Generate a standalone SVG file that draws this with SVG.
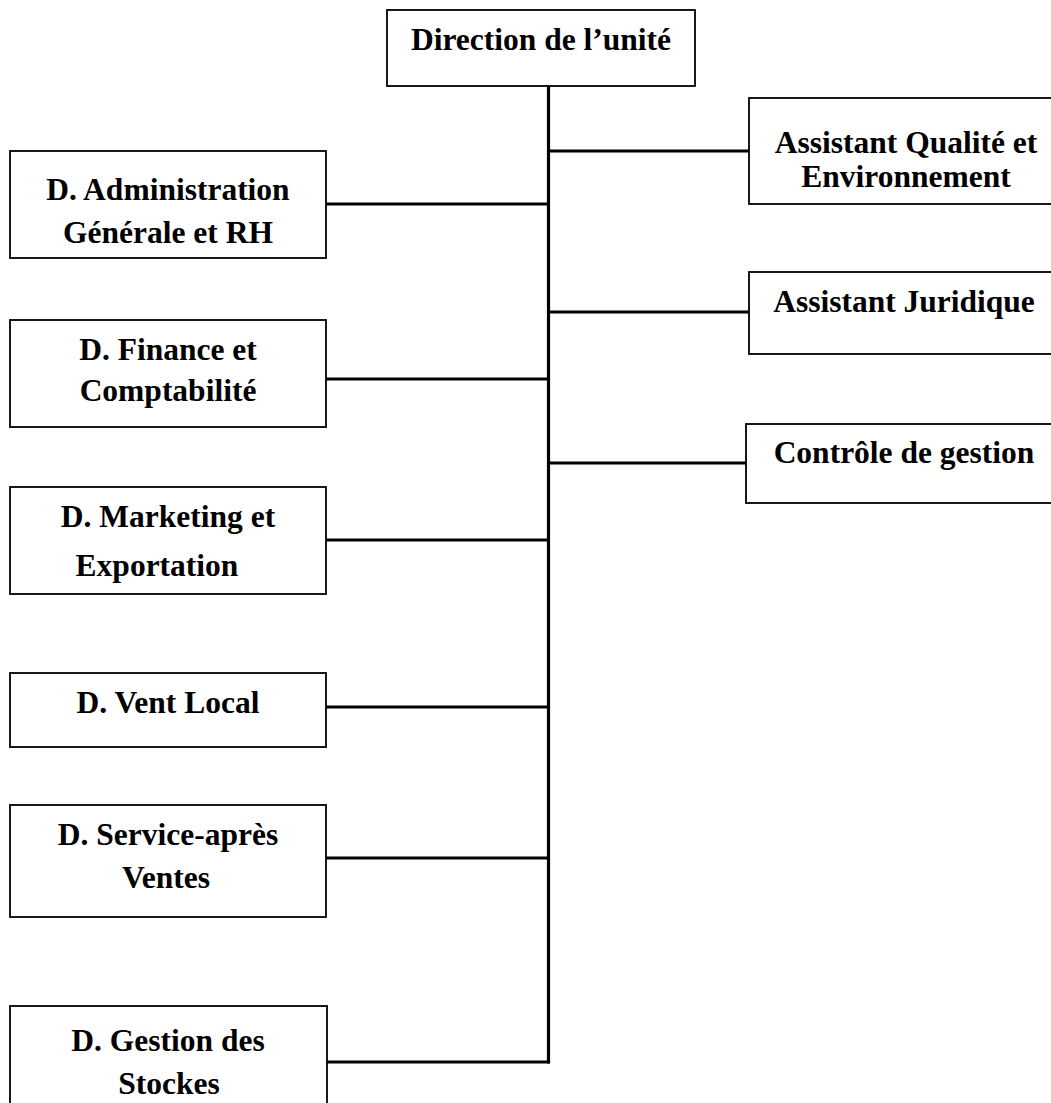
<svg xmlns="http://www.w3.org/2000/svg" width="1051" height="1103" viewBox="0 0 1051 1103">
  <style>
    .box { fill: #ffffff; stroke: #000000; stroke-width: 1.8; }
    .lbl { font-family: "Liberation Serif", "Times New Roman", serif; font-weight: bold; font-size: 31.5px; fill: #000000; text-anchor: middle; }
    .link { stroke: #000000; stroke-width: 3.2; fill: none; }
  </style>
  <rect x="0" y="0" width="1051" height="1103" fill="#ffffff"/>

  <!-- connectors: one trunk with branches -->
  <g id="connectors">
    <line class="link" x1="548.5" y1="86" x2="548.5" y2="1063.5"/>
    <line class="link" x1="548.5" y1="151" x2="749" y2="151"/>
    <line class="link" x1="548.5" y1="312" x2="749" y2="312"/>
    <line class="link" x1="548.5" y1="463" x2="746" y2="463"/>
    <line class="link" x1="326" y1="204" x2="548.5" y2="204"/>
    <line class="link" x1="326" y1="379" x2="548.5" y2="379"/>
    <line class="link" x1="326" y1="540" x2="548.5" y2="540"/>
    <line class="link" x1="326" y1="707" x2="548.5" y2="707"/>
    <line class="link" x1="326" y1="858" x2="548.5" y2="858"/>
    <line class="link" x1="326" y1="1062" x2="550" y2="1062"/>
  </g>

  <!-- top node -->
  <g id="direction">
    <rect class="box" x="387" y="10" width="308" height="76"/>
    <text class="lbl" x="541" y="50">Direction de l’unité</text>
  </g>

  <!-- staff nodes on the right -->
  <g id="assistant-qualite">
    <rect class="box" x="749" y="98" width="320" height="106"/>
    <text class="lbl" x="906" y="153">Assistant Qualité et</text>
    <text class="lbl" x="906" y="187">Environnement</text>
  </g>
  <g id="assistant-juridique">
    <rect class="box" x="749" y="272" width="320" height="82"/>
    <text class="lbl" x="904" y="312">Assistant Juridique</text>
  </g>
  <g id="controle-gestion">
    <rect class="box" x="746" y="424" width="320" height="79"/>
    <text class="lbl" x="904" y="463">Contrôle de gestion</text>
  </g>

  <!-- departments on the left -->
  <g id="d-administration">
    <rect class="box" x="10" y="151" width="316" height="107"/>
    <text class="lbl" x="168" y="200">D. Administration</text>
    <text class="lbl" x="168" y="243">Générale et RH</text>
  </g>
  <g id="d-finance">
    <rect class="box" x="10" y="320" width="316" height="107"/>
    <text class="lbl" x="168" y="360">D. Finance et</text>
    <text class="lbl" x="168" y="401">Comptabilité</text>
  </g>
  <g id="d-marketing">
    <rect class="box" x="10" y="487" width="316" height="107"/>
    <text class="lbl" x="168" y="527">D. Marketing et</text>
    <text class="lbl" x="157" y="576">Exportation</text>
  </g>
  <g id="d-vente-local">
    <rect class="box" x="10" y="673" width="316" height="74"/>
    <text class="lbl" x="168" y="713">D. Vent Local</text>
  </g>
  <g id="d-service-apres-ventes">
    <rect class="box" x="10" y="805" width="316" height="112"/>
    <text class="lbl" x="168" y="845">D. Service-après</text>
    <text class="lbl" x="166" y="888">Ventes</text>
  </g>
  <g id="d-gestion-stockes">
    <rect class="box" x="10" y="1006" width="317" height="110"/>
    <text class="lbl" x="168" y="1051">D. Gestion des</text>
    <text class="lbl" x="169" y="1094">Stockes</text>
  </g>
</svg>
